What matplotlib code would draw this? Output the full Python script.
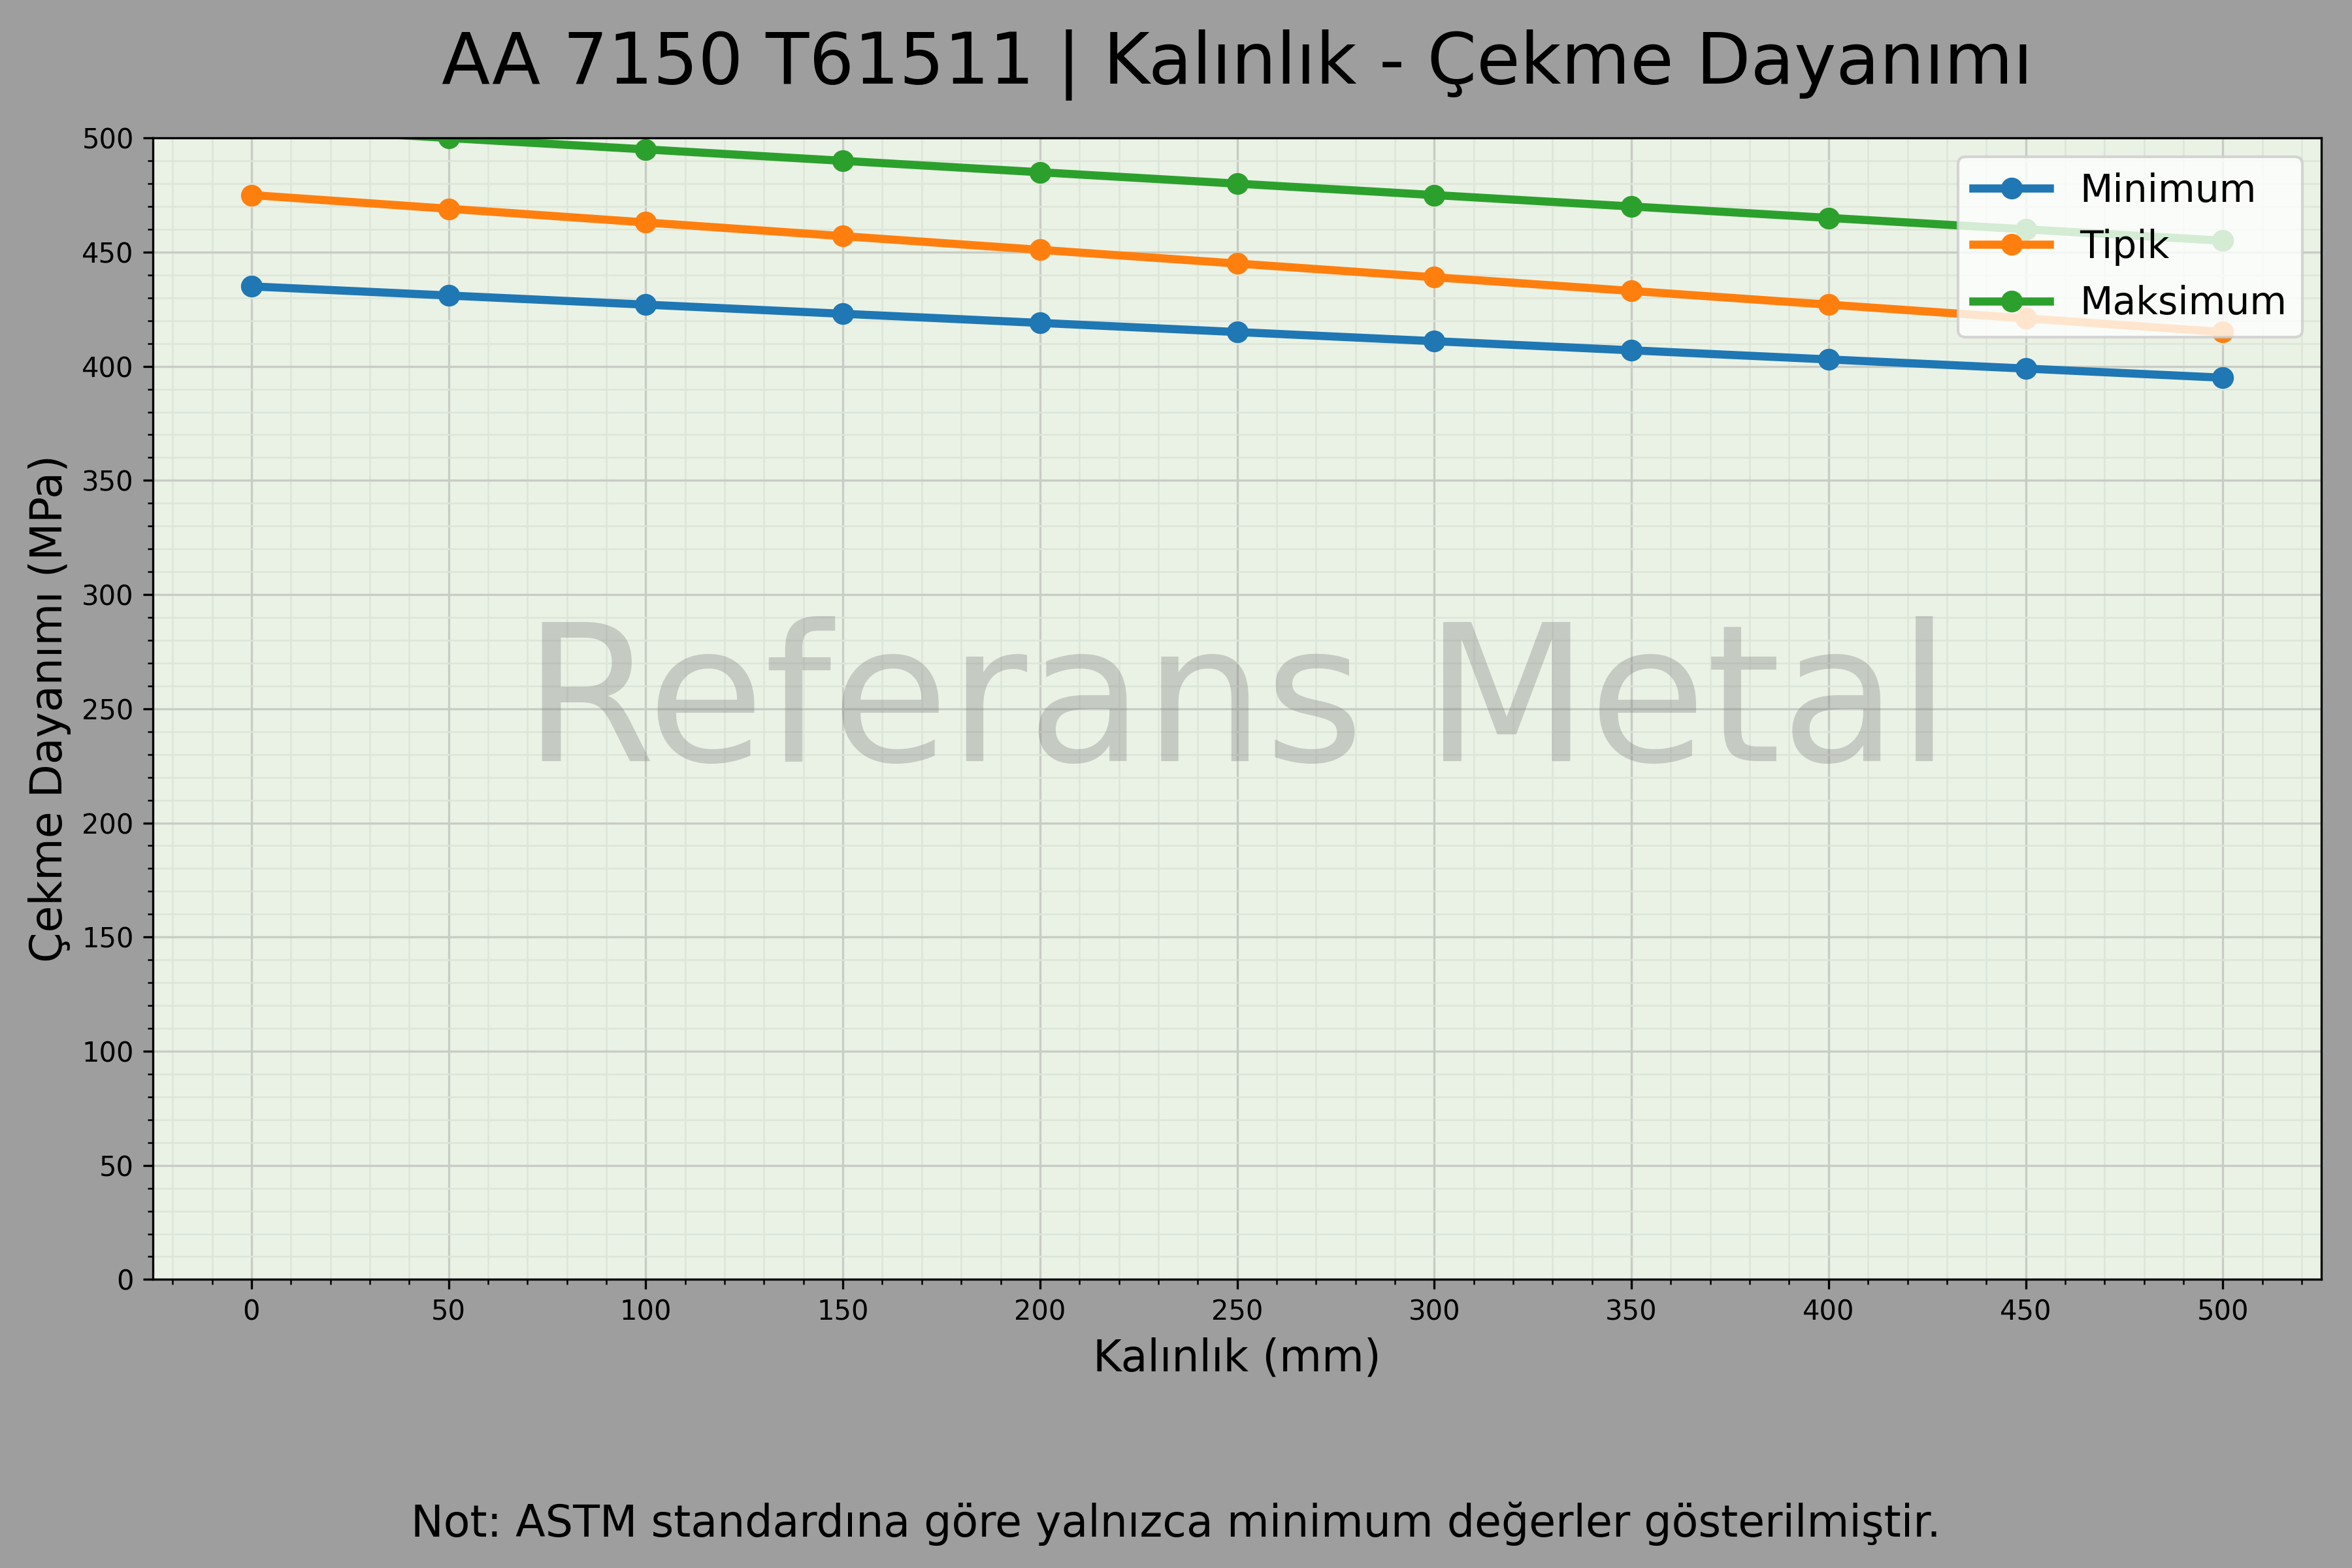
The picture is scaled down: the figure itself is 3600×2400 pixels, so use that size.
import matplotlib
matplotlib.use("Agg")
import matplotlib.pyplot as plt
from matplotlib.ticker import MultipleLocator

# veri
kalinlik = [0, 50, 100, 150, 200, 250, 300, 350, 400, 450, 500]
minimum = [435, 431, 427, 423, 419, 415, 411, 407, 403, 399, 395]
tipik = [475, 469, 463, 457, 451, 445, 439, 433, 427, 421, 415]
maksimum = [505, 500, 495, 490, 485, 480, 475, 470, 465, 460, 455]

fig, ax = plt.subplots(figsize=(12, 8), dpi=300)
fig.patch.set_facecolor("#9e9e9e")
ax.set_facecolor("#eaf2e6")

ax.plot(kalinlik, minimum, marker="o", linewidth=3, markersize=7, label="Minimum")
ax.plot(kalinlik, tipik, marker="o", linewidth=3, markersize=7, label="Tipik")
ax.plot(kalinlik, maksimum, marker="o", linewidth=3, markersize=7, label="Maksimum")

ax.set_xlim(-25, 525)
ax.set_ylim(0, 500)
ax.xaxis.set_major_locator(MultipleLocator(50))
ax.yaxis.set_major_locator(MultipleLocator(50))
ax.xaxis.set_minor_locator(MultipleLocator(10))
ax.yaxis.set_minor_locator(MultipleLocator(10))
ax.grid(which="major", color="#c8ccc4", linewidth=0.8)
ax.grid(which="minor", color="#dde4d8", linewidth=0.6)
ax.set_axisbelow(True)

ax.set_xlabel("Kalınlık (mm)", fontsize=16)
ax.set_ylabel("Çekme Dayanımı (MPa)", fontsize=16)
ax.tick_params(labelsize=10)
ax.set_title("AA 7150 T61511 | Kalınlık - Çekme Dayanımı", fontsize=26, pad=20)

ax.text(0.5, 0.5, "Referans Metal", transform=ax.transAxes, fontsize=70,
        color="gray", alpha=0.35, ha="center", va="center")

ax.legend(loc="upper right", fontsize=14, framealpha=0.8)

fig.text(0.5, 0.02, "Not: ASTM standardına göre yalnızca minimum değerler gösterilmiştir.",
         ha="center", fontsize=16)

fig.subplots_adjust(left=0.065, right=0.987, top=0.912, bottom=0.184)
fig.savefig("out.png", facecolor=fig.get_facecolor())
